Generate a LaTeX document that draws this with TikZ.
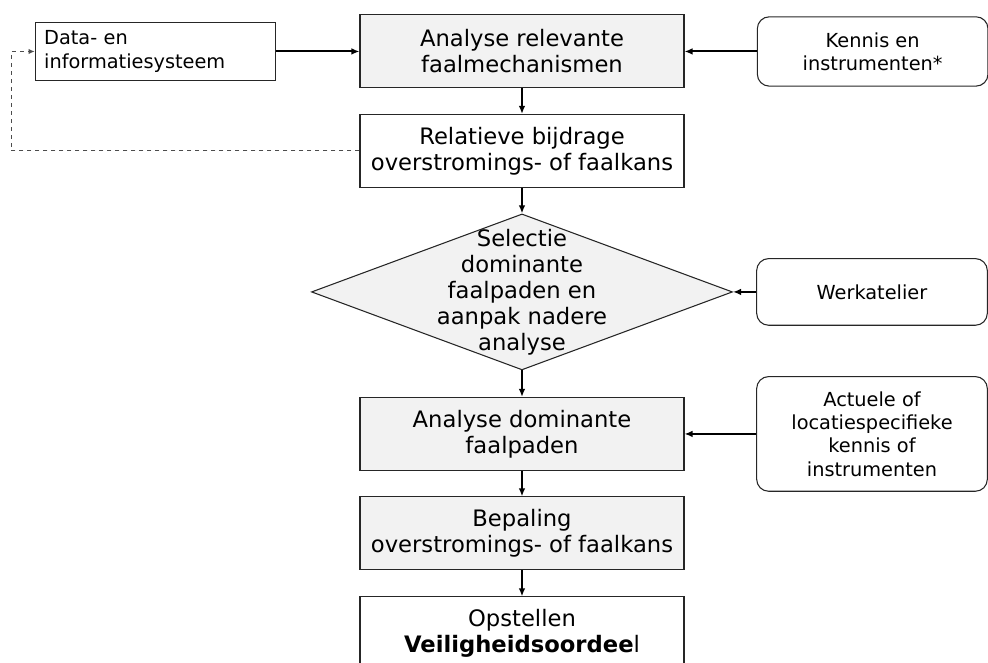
\documentclass[tikz,border=0pt]{standalone}
\usepackage{fontspec}
\setmainfont{DejaVu Sans}
\usetikzlibrary{arrows.meta,shapes}

\begin{document}
\begin{tikzpicture}[node distance=74.6pt,>={Latex[length=6pt,width=5pt]}]
  \tikzstyle{mainbox}=[rectangle,draw=black!85,line width=0.8pt,fill=black!5,
        minimum width=243pt,minimum height=54.75pt,align=center,
        font=\fontsize{17pt}{19.5pt}\selectfont]
  \tikzstyle{plainbox}=[mainbox,fill=white]
  \tikzstyle{inbox}=[rectangle,rounded corners=9pt,draw=black!85,line width=0.8pt,
        minimum width=173pt,align=center,font=\fontsize{14.5pt}{17.5pt}\selectfont]
  \tikzstyle{databox}=[rectangle,draw=black!85,line width=0.8pt,text width=167pt,
        inner xsep=6.75pt,minimum height=43.5pt,align=left,
        font=\fontsize{14.5pt}{17.5pt}\selectfont]
  \tikzstyle{pre}=[<-,line width=1.5pt]
  \tikzstyle{post}=[->,line width=1.5pt]
  \tikzstyle{feedback}=[->,dashed,draw=black!70,line width=0.7pt,
        >={Latex[length=4.5pt,width=4pt]}]
    % frame of the page
    \useasboundingbox (-391.5pt,-458.6pt) rectangle (349.5pt,38.6pt);
    % main column
    \node [mainbox] (b1) {Analyse relevante\\faalmechanismen};
    \node [plainbox] (b2) [below of=b1] {Relatieve bijdrage\\overstromings- of faalkans} edge [pre] (b1);
    \node [diamond,draw=black!85,line width=0.8pt,fill=black!5,inner sep=0pt,
        minimum width=315.75pt,minimum height=117pt,
        label={[align=center,font=\fontsize{17pt}{19.5pt}\selectfont]center:Selectie\\dominante\\faalpaden en\\aanpak nadere\\analyse}]
        (sel) [below of=b2, node distance=105.75pt] {} edge [pre] (b2);
    \node [mainbox] (dom) [below of=sel, node distance=106.5pt] {Analyse dominante\\faalpaden} edge [pre] (sel);
    \node [mainbox] (bep) [below of=dom] {Bepaling\\overstromings- of faalkans} edge [pre] (dom);
    \node [plainbox] (oordeel) [below of=bep, node distance=75pt] {Opstellen\\\textbf{Veiligheidsoordee}l} edge [pre] (bep);
    % inputs
    \node [databox] (data) [left of=b1, node distance=274.9pt] {Data- en\\informatiesysteem} edge [post] (b1);
    \node [inbox,minimum height=52pt] (kennis) [right of=b1, node distance=263pt] {Kennis en\\instrumenten*} edge [post] (b1);
    \node [inbox,minimum height=50pt] (werk) [right of=sel, node distance=262.5pt] {Werkatelier} edge [post] (sel);
    \node [inbox,minimum height=86pt] (actueel) [right of=dom, node distance=262.5pt] {Actuele of\\locatiespecifieke\\kennis of\\instrumenten} edge [post] (dom);
    % terugkoppeling
    \draw [feedback] (b2.west) -- ++(-261pt,0) |- (data.west);
\end{tikzpicture}
\end{document}
